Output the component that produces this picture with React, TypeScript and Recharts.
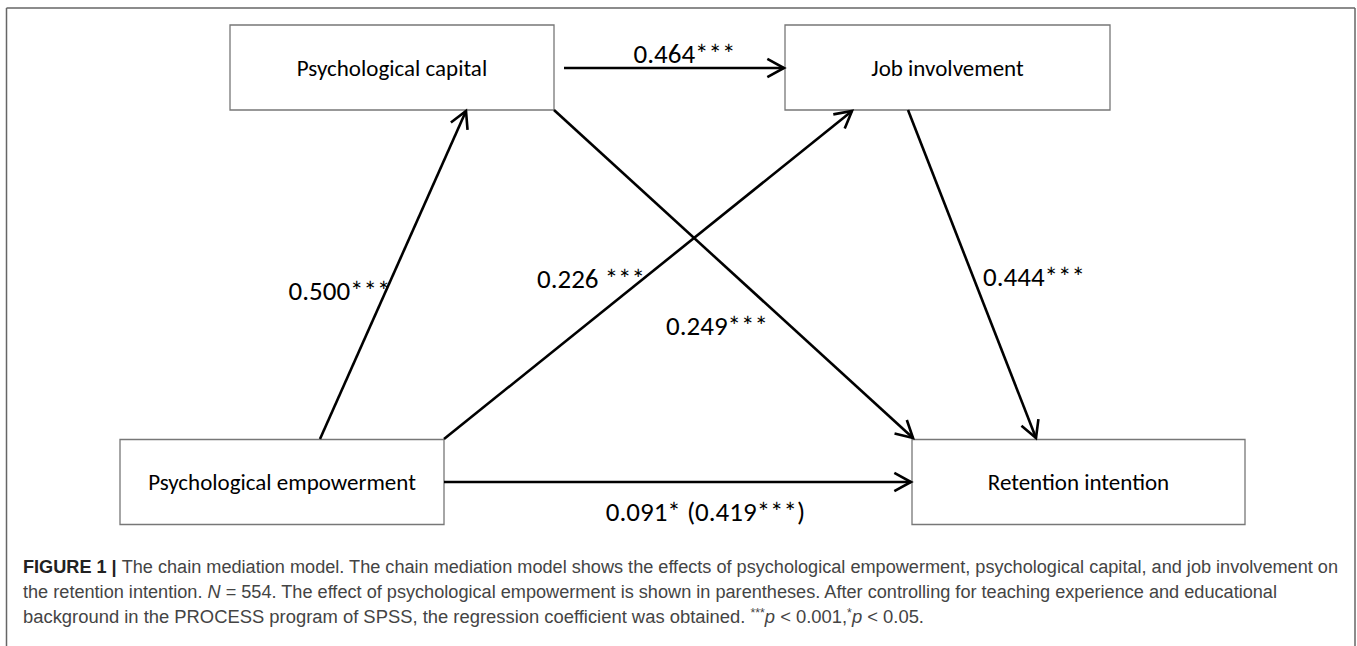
import React from 'react'
import { ScatterChart, XAxis, YAxis, ReferenceArea, ReferenceLine, Scatter } from 'recharts'

const W = 1357
const H = 646

// variables of the model (box centres, in figure units)
const nodeNames = ['Psychological capital', 'Job involvement', 'Psychological empowerment', 'Retention intention']
const nodeCx = [392, 947.5, 282, 1078.5]
const nodeCy = [67.5, 67.5, 482, 482]

// paths: start / end points and the coefficient written beside them
const pathFrom = [
  [564, 68],
  [320, 439],
  [444, 439],
  [554, 110],
  [908, 110],
  [444, 482],
]
const pathTo = [
  [784, 68],
  [466, 111],
  [852, 111],
  [913, 438],
  [1036, 438],
  [911, 482],
]
const coefficients = ['0.464***', '0.500***', '0.226 ***', '0.249***', '0.444***', '0.091* (0.419***)']
const coefX = [684.5, 339.5, 591, 717, 1034, 705.5]
const coefY = [63, 300, 288, 335, 286, 521]

const boxHalfW = [162, 162.5, 162, 166.5]
const BOX_HALF_H = 42.5

const LABEL_FONT = 'Carlito, Calibri, Lato, sans-serif'
const CAPTION_FONT = '"Liberation Sans", Arial, sans-serif'

const Arrow = (props: any) => {
  const { x1, y1, x2, y2 } = props
  const a = Math.atan2(y2 - y1, x2 - x1)
  const len = 19
  const phi = 0.5
  const p1 = [x2 - len * Math.cos(a - phi), y2 - len * Math.sin(a - phi)]
  const p2 = [x2 - len * Math.cos(a + phi), y2 - len * Math.sin(a + phi)]
  return (
    <g>
      <line x1={x1} y1={y1} x2={x2} y2={y2} stroke="#000" strokeWidth={2.6} />
      <polyline
        points={`${p1[0]},${p1[1]} ${x2},${y2} ${p2[0]},${p2[1]}`}
        fill="none"
        stroke="#000"
        strokeWidth={2.6}
      />
    </g>
  )
}

const CoefLabel = (props: any) => {
  const { cx, cy, payload } = props
  return (
    <text x={cx} y={cy} textAnchor="middle" fontSize={27} fontFamily={LABEL_FONT} fill="#000">
      {payload.t}
    </text>
  )
}

export default function App() {
  const labelData = coefficients.map((t, i) => ({ x: coefX[i], y: coefY[i], t }))

  return (
    <div style={{ position: 'absolute', left: 0, top: 0, width: W, height: H, background: '#fff' }}>
      <ScatterChart width={W} height={H} margin={{ top: 0, right: 0, bottom: 0, left: 0 }}>
        <XAxis type="number" dataKey="x" domain={[0, W]} hide />
        <YAxis type="number" dataKey="y" domain={[0, H]} reversed hide />

        {/* frame */}
        <ReferenceLine segment={[{ x: 6.5, y: 8 }, { x: 1355, y: 8 }]} stroke="#666" strokeWidth={1.5} />
        <ReferenceLine segment={[{ x: 6.5, y: 8 }, { x: 6.5, y: H }]} stroke="#666" strokeWidth={1.5} />
        <ReferenceLine segment={[{ x: 1355, y: 8 }, { x: 1355, y: H }]} stroke="#666" strokeWidth={1.5} />

        {nodeNames.map((name, i) => (
          <ReferenceArea
            key={name}
            x1={nodeCx[i] - boxHalfW[i]}
            x2={nodeCx[i] + boxHalfW[i]}
            y1={nodeCy[i] - BOX_HALF_H}
            y2={nodeCy[i] + BOX_HALF_H}
            fill="#fff"
            fillOpacity={1}
            stroke="#777"
            strokeWidth={1.3}
            label={{ value: name, position: 'center', fontSize: 23, fontFamily: LABEL_FONT, fill: '#000' }}
          />
        ))}

        {pathFrom.map((p, i) => (
          <ReferenceLine
            key={i}
            segment={[{ x: p[0], y: p[1] }, { x: pathTo[i][0], y: pathTo[i][1] }]}
            shape={(lp: any) => <Arrow {...lp} />}
          />
        ))}

        <Scatter data={labelData} dataKey="y" shape={(p: any) => <CoefLabel {...p} />} isAnimationActive={false} />

        <g fontFamily={CAPTION_FONT} fontSize={18} fill="#444">
          <text x={23} y={573} textLength={1315} lengthAdjust="spacingAndGlyphs">
            <tspan fontWeight="bold" fill="#222">FIGURE 1 | </tspan>
            The chain mediation model. The chain mediation model shows the effects of psychological empowerment, psychological capital, and job involvement on
          </text>
          <text x={23} y={598} textLength={1254} lengthAdjust="spacingAndGlyphs">
            the retention intention. <tspan fontStyle="italic">N</tspan> = 554. The effect of psychological empowerment is shown in parentheses. After controlling for teaching experience and educational
          </text>
          <text x={23} y={623} textLength={901} lengthAdjust="spacingAndGlyphs">
            background in the PROCESS program of SPSS, the regression coefficient was obtained.{' '}
            <tspan fontSize={12} dy={-6}>***</tspan>
            <tspan fontStyle="italic" dy={6}>p</tspan> &lt; 0.001,
            <tspan fontSize={12} dy={-6}>*</tspan>
            <tspan fontStyle="italic" dy={6}>p</tspan> &lt; 0.05.
          </text>
        </g>
      </ScatterChart>
    </div>
  )
}
